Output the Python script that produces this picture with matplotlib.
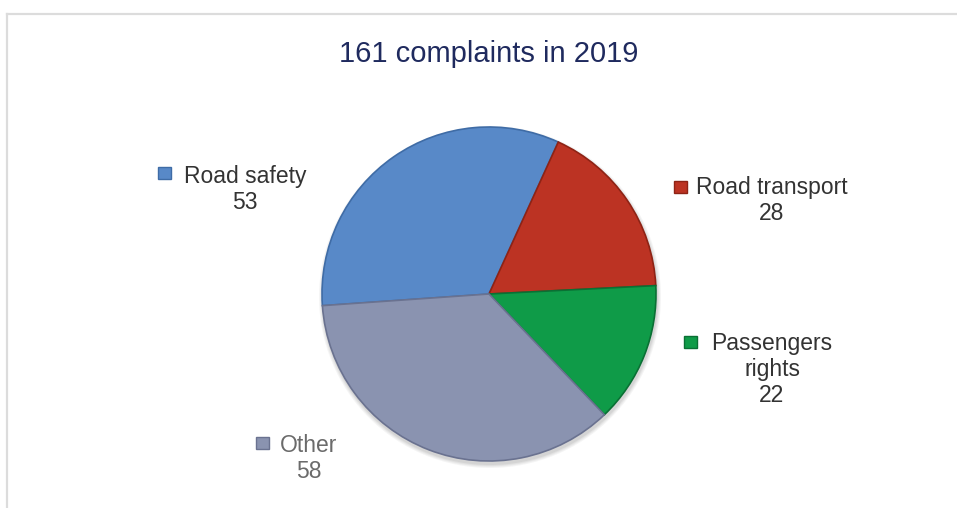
import matplotlib.pyplot as plt
from matplotlib.patches import Rectangle, Circle
from matplotlib.lines import Line2D

plt.rcParams['font.family'] = ['Liberation Sans', 'DejaVu Sans']

title = '161 complaints in 2019'
categories = ['Road safety', 'Road transport', 'Passengers rights', 'Other']
values = [53, 28, 22, 58]
label_lines = [['Road safety'], ['Road transport'], ['Passengers', 'rights'], ['Other']]
colors = ['#5889C8', '#BC3323', '#0F9B48', '#8A93B0']
edge_colors = ['#3F6CA6', '#8E2315', '#0A7034', '#6A7290']
text_colors = ['#333333', '#333333', '#333333', '#6B6B6B']

W, H = 957, 508
fig = plt.figure(figsize=(W / 100, H / 100), dpi=100)
ax = fig.add_axes([0, 0, 1, 1])

# frame (only left and top edges show)
fig.add_artist(Line2D([6.5 / W, 6.5 / W], [0, 1 - 13.5 / H], color='#DCDCDC', lw=1.6))
fig.add_artist(Line2D([6.5 / W, 1], [1 - 13.5 / H, 1 - 13.5 / H], color='#DCDCDC', lw=1.6))

cx, cy, r = 489, H - 294, 167

# soft shadow under the pie
for i, a in enumerate([0.05, 0.05, 0.06, 0.07]):
    ax.add_patch(Circle((cx + 1, cy - 3), r + 4 - i, color='#404040', alpha=a, lw=0))

wedges, _ = ax.pie(values, colors=colors, startangle=184, counterclock=False,
                   center=(cx, cy), radius=r, frame=True,
                   wedgeprops=dict(linewidth=1.2))
for w, ec in zip(wedges, edge_colors):
    w.set_edgecolor(ec)
ax.set_xlim(0, W)
ax.set_ylim(0, H)
ax.set_aspect('equal')
ax.axis('off')

ax.text(489, H - 62, title, ha='center', va='baseline', fontsize=21, color='#1F2A5E')

# data labels: center x, first baseline, marker center (pixels from top)
label_pos = [(245, 183, 164, 173), (772, 194, 680, 187), (772, 350, 690, 342), (309, 452, 262, 443)]
step = 26
for lines, v, (x, y0, mx, my), c, ec, tc in zip(label_lines, values, label_pos, colors, edge_colors, text_colors):
    for k, s in enumerate(lines + [str(v)]):
        ax.text(x, H - (y0 + k * step), s, ha='center', va='baseline', fontsize=16.5, color=tc)
    ax.add_patch(Rectangle((mx - 6.5, H - my - 6), 13, 12, facecolor=c, edgecolor=ec, lw=1))

fig.savefig('out.png', dpi=100)
